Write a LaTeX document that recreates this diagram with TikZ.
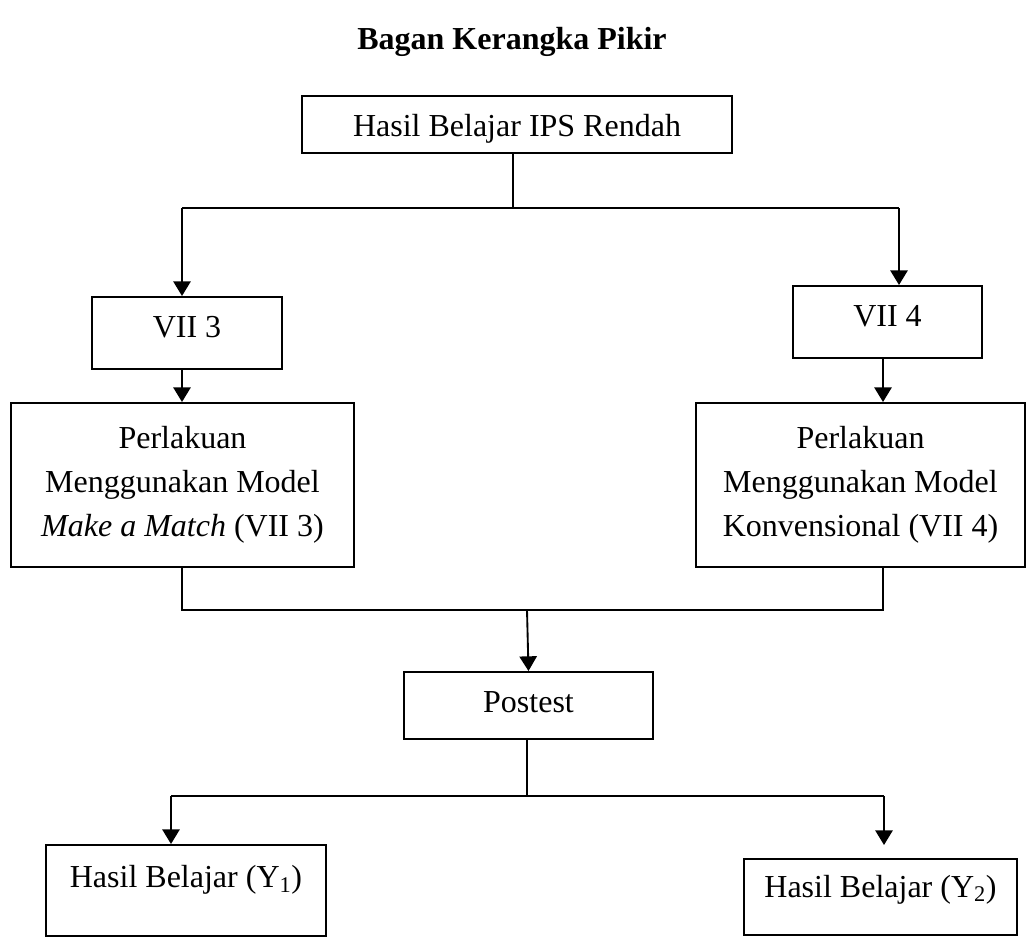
\documentclass[tikz,border=0pt]{standalone}
\usepackage{fontspec}
\setmainfont{Liberation Serif}
\usetikzlibrary{arrows.meta}
\def\darr{\draw[-{Triangle[length=11pt,width=13pt]}]}

\begin{document}
\begin{tikzpicture}[x=0.75pt,y=-0.75pt,line width=1.4pt,
        every node/.style={font=\fontsize{24}{33}\selectfont},
        box/.style={draw,line width=1.5pt,inner sep=0pt,align=center}]
    \useasboundingbox (0,0) rectangle (1027,945);
    \node[font=\fontsize{24}{29}\selectfont\bfseries] (title) at (512,42) {Bagan Kerangka Pikir};
    \node[box,minimum width=322.5pt,minimum height=42.75pt,text height=18pt,text depth=0pt] (rendah) at (517,124.5) {Hasil Belajar IPS Rendah};
    \node[box,minimum width=142.5pt,minimum height=54pt,text height=14pt,text depth=8pt] (vii3) at (187,333) {VII 3};
    \node[box,minimum width=141.75pt,minimum height=54pt,text height=14pt,text depth=8pt] (vii4) at (887.5,322) {VII 4};
    \node[box,minimum width=257.25pt,minimum height=123pt] (treatA) at (182.5,485) {Perlakuan\\Menggunakan Model\\\emph{Make a Match} (VII 3)};
    \node[box,minimum width=246.75pt,minimum height=123pt] (treatB) at (860.5,485) {Perlakuan\\Menggunakan Model\\Konvensional (VII 4)};
    \node[box,minimum width=186.75pt,minimum height=50.25pt,text height=15pt,text depth=5pt] (postest) at (528.5,705.5) {Postest};
    \node[box,minimum width=210pt,minimum height=68.25pt,text height=16pt,text depth=21pt] (hasilA) at (186,890.5) {Hasil Belajar (Y\textsubscript{1})};
    \node[box,minimum width=204.75pt,minimum height=57pt,text height=16pt,text depth=16pt] (hasilB) at (880.5,897) {Hasil Belajar (Y\textsubscript{2})};
    \coordinate (split) at (513,208);
    \coordinate (left) at (182,208);
    \coordinate (right) at (899,208);
    \coordinate (mergeA) at (182,610);
    \coordinate (mergeB) at (883,610);
    \coordinate (merge) at (527,610);
    \coordinate (fork) at (527,796);
    \coordinate (forkA) at (171,796);
    \coordinate (forkB) at (884,796);
    \coordinate (tipB) at (884,845);
    \draw (rendah.south -| split) -- (split);
    \draw (left) -- (right);
    \darr (left) -- (left |- vii3.north);
    \darr (right) -- (right |- vii4.north);
    \darr (vii3.south -| left) -- (treatA.north -| left);
    \darr (vii4.south -| mergeB) -- (treatB.north -| mergeB);
    \draw (treatA.south -| mergeA) -- (mergeA) -- (mergeB) -- (treatB.south -| mergeB);
    \darr (merge) -- (postest.north);
    \draw (postest.south -| fork) -- (fork);
    \draw (forkA) -- (forkB);
    \darr (forkA) -- (forkA |- hasilA.north);
    \darr (forkB) -- (tipB);
\end{tikzpicture}
\end{document}
